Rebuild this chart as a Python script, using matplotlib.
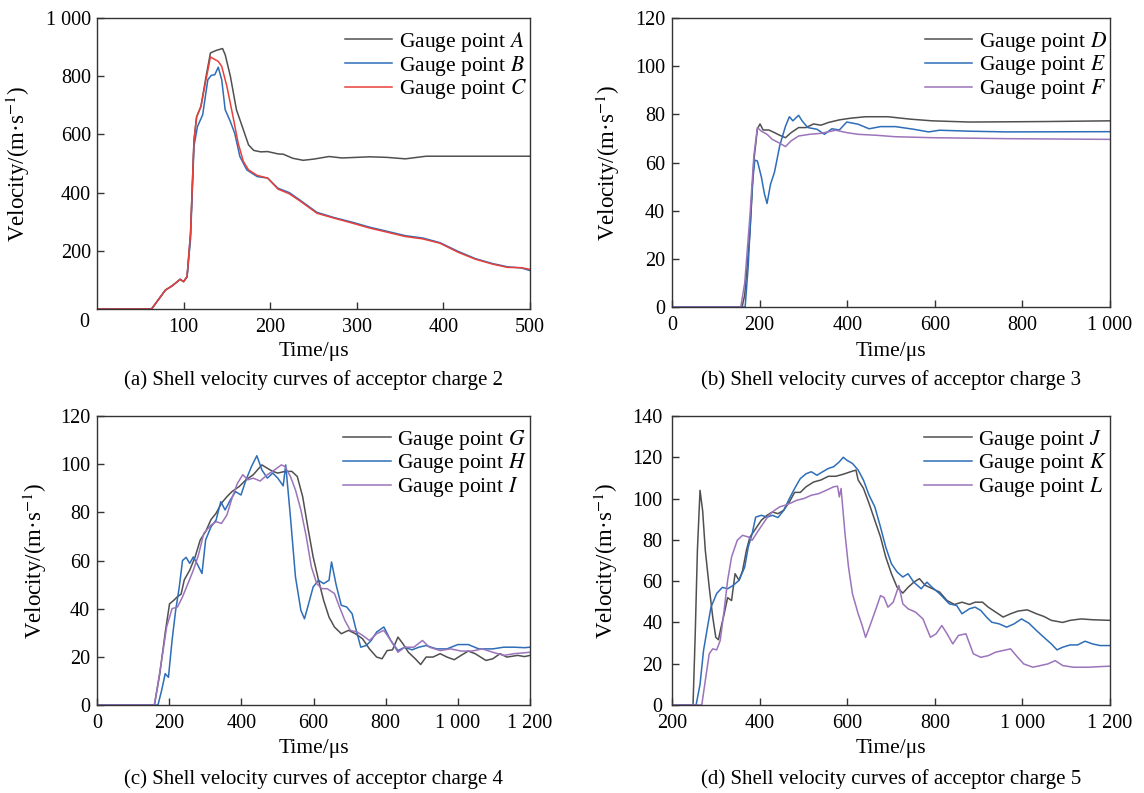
import matplotlib
matplotlib.use("Agg")
import matplotlib.pyplot as plt
from matplotlib.ticker import FixedLocator, FuncFormatter

plt.rcParams['font.family'] = ['Liberation Serif', 'DejaVu Serif']
plt.rcParams['mathtext.fontset'] = 'stix'
plt.rcParams['font.size'] = 14

# ---------------- data ----------------
# (a) acceptor charge 2
a_A_t = [0, 63, 79, 87, 96, 100, 104, 108, 112, 115, 120, 126, 131, 138, 145, 148, 154, 161, 169, 175,
         181, 189, 197, 209, 215, 226, 238, 250, 268, 283, 315, 335, 356, 380, 500]
a_A_v = [0, 0, 65, 80, 102, 94, 111, 260, 580, 660, 696, 800, 880, 889, 895, 874, 800, 685, 616, 564,
         545, 540, 541, 533, 532, 518, 511, 515, 524, 519, 523, 521, 516, 525, 525]
a_B_t = [0, 63, 79, 87, 96, 100, 104, 108, 112, 116, 122, 128, 132, 136, 140, 144, 148, 154, 159, 165,
         173, 185, 197, 209, 222, 234, 254, 274, 295, 315, 335, 356, 376, 396, 417, 437, 457, 474, 490, 500]
a_B_v = [0, 0, 65, 80, 102, 94, 111, 240, 560, 627, 667, 788, 803, 805, 831, 788, 685, 644, 604, 524,
         478, 455, 450, 415, 400, 375, 332, 314, 298, 281, 267, 252, 244, 228, 198, 173, 156, 145, 141, 132]
a_C_t = [0, 63, 79, 87, 96, 100, 104, 108, 112, 115, 120, 126, 131, 140, 144, 150, 157, 163, 169, 175,
         185, 197, 209, 222, 234, 254, 274, 295, 315, 335, 356, 376, 396, 417, 437, 457, 474, 490, 500]
a_C_v = [0, 0, 65, 80, 102, 94, 111, 260, 580, 660, 696, 790, 866, 851, 834, 765, 662, 570, 507, 478,
         459, 450, 412, 396, 372, 329, 312, 295, 278, 264, 249, 241, 226, 195, 171, 154, 143, 142, 136]

# (b) acceptor charge 3
b_D_t = [0, 160, 166, 178, 187, 195, 201, 208, 221, 234, 246, 259, 272, 289, 306, 323, 340, 357, 382,
         408, 442, 493, 544, 594, 679, 849, 1000]
b_D_v = [0, 0, 5, 31, 61, 74, 76, 73.5, 73.5, 72.4, 71.3, 70.3, 72.4, 74.5, 74.5, 76, 75.5, 76.6, 77.7,
         78.4, 79, 79, 78, 77.3, 76.8, 77, 77.3]
b_E_t = [0, 167, 174, 183, 189, 195, 204, 211, 217, 225, 234, 246, 259, 268, 276, 289, 297, 310, 331,
         348, 365, 382, 399, 425, 450, 476, 510, 552, 586, 611, 679, 764, 1000]
b_E_v = [0, 0, 17, 50, 61, 60.6, 54, 47, 43, 51, 56, 67, 75, 79, 77.3, 79.6, 77.3, 74.5, 73.8,
         71.7, 74, 73.5, 76.8, 75.9, 74, 74.9, 74.9, 73.8, 72.7, 73.4, 73, 72.7, 72.8]
b_F_t = [0, 157, 166, 178, 187, 195, 204, 217, 229, 246, 259, 272, 289, 314, 340, 374, 399, 425, 467,
         510, 594, 764, 1000]
b_F_v = [0, 0, 10, 38, 63, 74.5, 73, 71.7, 69.6, 68, 66.6, 69, 71, 71.7, 72.1, 73.4, 72.4, 71.7, 71.3,
         70.7, 70.3, 69.9, 69.6]

# (c) acceptor charge 4
c_G_t = [0, 159, 174, 189, 201, 213, 223, 233, 242, 257, 272, 286, 301, 316, 330, 345, 360, 374, 394,
         413, 433, 457, 472, 487, 501, 521, 540, 555, 570, 584, 599, 614, 628, 643, 658, 677, 697, 716,
         736, 755, 775, 790, 804, 819, 834, 848, 863, 882, 897, 912, 931, 951, 970, 990, 1009, 1029,
         1048, 1078, 1097, 1117, 1136, 1166, 1185, 1200]
c_G_v = [0, 0, 13, 30, 42, 43.5, 45, 46, 52, 56, 61.5, 68.5, 72, 77, 79.6, 83.8, 86.5, 88.6, 90.7,
         93.5, 95.6, 99.7, 98.3, 97, 96.3, 97, 97, 94.9, 86.5, 74, 61.5, 51.8, 43.5, 36.5, 32.4, 29.6,
         31, 29.6, 27.5, 23.3, 19.9, 19.2, 22.6, 22.9, 28.2, 25.4, 21.9, 19.2, 16.8, 19.9, 19.9, 21.3,
         19.9, 18.8, 20.6, 22.4, 21.3, 18.5, 19.2, 21.3, 19.9, 20.6, 20.1, 20.6]
c_H_t = [0, 169, 179, 189, 198, 208, 218, 228, 237, 247, 257, 267, 277, 291, 301, 316, 330, 343, 355,
         369, 384, 399, 413, 428, 443, 457, 472, 487, 501, 516, 523, 536, 550, 565, 575, 584, 599, 614,
         628, 643, 650, 663, 677, 692, 707, 716, 731, 746, 760, 775, 795, 814, 834, 853, 873, 892, 912,
         941, 970, 1000, 1029, 1058, 1097, 1127, 1156, 1185, 1200]
c_H_v = [0, 0, 6, 13, 11.5, 26.8, 39.3, 49, 60, 61.3, 58.8, 61.5, 58.8, 54.6, 68.5, 74, 76.8, 84.4,
         81, 85, 88.6, 87.2, 93.5, 99, 103.5, 97.6, 94.2, 96.3, 94.2, 91, 99.7, 78.2, 53.2, 39.3, 35.8,
         40.7, 49, 51.8, 50.4, 51.8, 59.4, 49.7, 41.4, 40.7, 37.9, 32.4, 24, 24.7, 26.8, 30.3, 32.4,
         26.8, 22.6, 24, 22.9, 24, 24.7, 23.3, 23.3, 25.1, 25.1, 23.3, 23.3, 24, 24, 23.8, 24]
c_I_t = [0, 159, 169, 179, 193, 208, 223, 237, 252, 267, 281, 296, 316, 330, 345, 360, 374, 389, 404,
         418, 433, 452, 472, 492, 511, 521, 536, 550, 565, 580, 594, 609, 623, 638, 658, 672, 687, 702,
         721, 736, 755, 775, 795, 814, 834, 853, 878, 902, 921, 951, 980, 1009, 1039, 1068, 1097, 1127,
         1156, 1200]
c_I_v = [0, 0, 8.8, 18.5, 32.4, 40, 40.7, 44.9, 50.4, 56, 62.2, 71.3, 74.7, 76.1, 75.4, 78.9, 85.8,
         92, 95.6, 93.5, 94.2, 93, 95.6, 97.6, 99.7, 99, 94.9, 89.3, 81, 69.9, 57.4, 50.4, 48.3, 48.3,
         46.3, 40.7, 35.1, 31, 30.3, 28.9, 26.8, 29.6, 31, 26.8, 21.9, 24, 24, 26.8, 24, 22.6, 23.3,
         22.4, 22.4, 23.3, 21.9, 20.6, 21.3, 21.9]

# (d) acceptor charge 5
d_J_t = [200, 248, 253, 258, 264, 270, 276, 285, 293, 300, 306, 312, 319, 327, 336, 344, 353, 361, 370,
         378, 391, 404, 417, 429, 442, 455, 468, 480, 493, 506, 523, 540, 557, 574, 591, 608, 620, 625,
         637, 650, 663, 676, 688, 701, 714, 727, 739, 752, 765, 778, 795, 811, 828, 845, 862, 879, 892,
         909, 922, 939, 956, 973, 990, 1011, 1032, 1049, 1066, 1092, 1109, 1134, 1160, 1200]
d_J_v = [0, 0, 34, 75, 104, 94, 75, 57, 42.6, 32.8, 31.6, 37.7, 44, 52, 50.6, 63.6, 60.4, 65, 75,
         81.4, 85.4, 89.5, 91.9, 93.5, 92.7, 94.3, 98.4, 103, 103, 105.7, 108, 109, 110.8, 110.8, 111.8,
         113, 113.8, 109, 105, 97.6, 89.5, 81.4, 71.7, 63.6, 57, 54.2, 57, 59.5, 61.2, 58, 56.3, 54.7,
         50.6, 48.7, 49.8, 48.7, 49.8, 49.8, 47.4, 45, 42.6, 44.2, 45.5, 46.1, 44.2, 42.9, 41, 40, 41,
         41.7, 41.3, 41]
d_K_t = [200, 255, 264, 272, 281, 289, 302, 315, 327, 340, 353, 366, 374, 383, 391, 404, 417, 429, 442,
         455, 468, 480, 493, 506, 518, 531, 544, 557, 569, 582, 591, 599, 612, 625, 637, 650, 663, 676,
         688, 701, 714, 727, 739, 752, 769, 782, 794, 811, 833, 850, 862, 879, 892, 905, 918, 930, 947,
         964, 981, 998, 1015, 1032, 1049, 1066, 1079, 1092, 1109, 1126, 1143, 1160, 1177, 1200]
d_K_v = [0, 0, 10, 26.4, 37.7, 47.4, 54, 57, 56.3, 58, 60.4, 66.8, 76.5, 83, 91, 91.9, 91, 91.9, 90.8,
         94.3, 100, 104.9, 109.7, 112, 113, 111.3, 113, 114.6, 115.4, 117.8, 120, 118.6, 117, 113.8,
         109, 101.6, 96, 86.2, 76.5, 68.4, 64.4, 62, 63.6, 59.5, 56.3, 59.5, 57, 53.9, 49, 48.2, 44.2,
         46.6, 47.4, 45.8, 42.6, 40.1, 39.3, 37.7, 39.3, 41.7, 39.6, 36.1, 32.8, 29.6, 26.7, 28, 29.1,
         29.1, 30.9, 29.6, 28.8, 28.8]
d_L_t = [200, 268, 276, 285, 293, 302, 310, 319, 327, 336, 349, 361, 374, 383, 395, 408, 421, 434, 446,
         459, 472, 485, 501, 518, 535, 552, 569, 578, 582, 586, 595, 603, 612, 625, 633, 642, 648, 659,
         667, 676, 684, 693, 705, 718, 727, 739, 756, 773, 790, 803, 816, 828, 841, 854, 871, 888, 905,
         922, 939, 956, 973, 986, 1003, 1024, 1041, 1058, 1075, 1092, 1117, 1151, 1177, 1200]
d_L_v = [0, 0, 11.8, 24.8, 27.2, 26.7, 31.2, 45.8, 60.4, 71.7, 79.8, 82.2, 81.4, 79.8, 83.8, 87.9,
         91.9, 94.3, 96, 96.8, 97.9, 99.2, 100, 101.6, 102.4, 104, 105.7, 106, 100.8, 104.9, 83, 66.8,
         53.9, 44.2, 39.3, 32.8, 36.1, 42.6, 47.4, 53, 52.1, 47.4, 49.8, 57.9, 49, 46.6, 45, 41.7, 32.8,
         34.5, 38.5, 34.5, 29.6, 33.7, 34.5, 24.8, 23.1, 23.9, 25.6, 26.4, 27.2, 23.9, 19.9, 18.3, 19.1,
         19.9, 21.5, 19.1, 18.3, 18.3, 18.6, 18.8]

# ---------------- style ----------------
BLACK = '#505050'
BLUE = '#2e6db8'
RED = '#e8403a'
PURPLE = '#9b74bb'
LW = 1.1

W, H = 1144, 793
fig = plt.figure(figsize=(W / 100, H / 100), dpi=100)


def rect(l, r, t, b):
    return [l / W, 1 - b / H, (r - l) / W, (b - t) / H]


def fmt(v, pos=None):
    v = int(round(v))
    if v >= 1000:
        return f"{v // 1000} {v % 1000:03d}"
    return str(v)


panels = [
    dict(r=(97, 530, 18, 309), xlim=(0, 500), ylim=(0, 1000), xt=[100, 200, 300, 400, 500],
         yt=[200, 400, 600, 800, 1000], ypad=4.5,
         series=[(a_A_t, a_A_v, BLACK, 'A'), (a_B_t, a_B_v, BLUE, 'B'), (a_C_t, a_C_v, RED, 'C')],
         cap='(a) Shell velocity curves of acceptor charge 2', ylx=18, xly=351, capy=380),
    dict(r=(672, 1110, 18, 307), xlim=(0, 1000), ylim=(0, 120), xt=[0, 200, 400, 600, 800, 1000],
         yt=[0, 20, 40, 60, 80, 100, 120], ypad=5,
         series=[(b_D_t, b_D_v, BLACK, 'D'), (b_E_t, b_E_v, BLUE, 'E'), (b_F_t, b_F_v, PURPLE, 'F')],
         cap='(b) Shell velocity curves of acceptor charge 3', ylx=608, xly=351, capy=380),
    dict(r=(97, 530, 416, 705), xlim=(0, 1200), ylim=(0, 120), xt=[0, 200, 400, 600, 800, 1000, 1200],
         yt=[0, 20, 40, 60, 80, 100, 120], ypad=5,
         series=[(c_G_t, c_G_v, BLACK, 'G'), (c_H_t, c_H_v, BLUE, 'H'), (c_I_t, c_I_v, PURPLE, 'I')],
         cap='(c) Shell velocity curves of acceptor charge 4', ylx=35, xly=748, capy=779),
    dict(r=(672, 1110, 416, 705), xlim=(200, 1200), ylim=(0, 140), xt=[200, 400, 600, 800, 1000, 1200],
         yt=[0, 20, 40, 60, 80, 100, 120, 140], ypad=7,
         series=[(d_J_t, d_J_v, BLACK, 'J'), (d_K_t, d_K_v, BLUE, 'K'), (d_L_t, d_L_v, PURPLE, 'L')],
         cap='(d) Shell velocity curves of acceptor charge 5', ylx=606, xly=748, capy=779),
]

for i, p in enumerate(panels):
    l, r, t, b = p['r']
    ax = fig.add_axes(rect(l, r, t, b))
    for xs, ys, col, lab in p['series']:
        ax.plot(xs, ys, color=col, lw=LW, label=f'Gauge point ${lab}$')
    ax.set_xlim(*p['xlim'])
    ax.set_ylim(*p['ylim'])
    ax.xaxis.set_major_locator(FixedLocator(p['xt']))
    ax.yaxis.set_major_locator(FixedLocator(p['yt']))
    ax.xaxis.set_major_formatter(FuncFormatter(fmt))
    ax.yaxis.set_major_formatter(FuncFormatter(fmt))
    ax.tick_params(direction='in', length=5, width=1, color='#333333', labelsize=14.5,
                   top=False, right=False)
    ax.tick_params(axis='x', pad=6.5)
    ax.tick_params(axis='y', pad=p['ypad'])
    for s in ax.spines.values():
        s.set_color('#333333')
        s.set_linewidth(1.0)
    ax.legend(loc='upper right', bbox_to_anchor=(1.0, 0.97), frameon=False, fontsize=15.5,
              handlelength=2.2, handletextpad=0.3, labelspacing=-0.02, borderaxespad=0.0,
              borderpad=0.15)
    cx = (l + r) / 2
    fig.text(cx / W, 1 - p['xly'] / H, 'Time/μs', ha='center', va='center', fontsize=15.5)
    fig.text(cx / W, 1 - p['capy'] / H, p['cap'], ha='center', va='center', fontsize=15)
    fig.text(p['ylx'] / W, 1 - (t + b) / 2 / H, 'Velocity/(m·s$^{-1}$)', rotation=90,
             ha='center', va='center', fontsize=16.5)
    if i == 0:
        fig.text(84 / W, 1 - 323 / H, '0', ha='center', va='center', fontsize=14.5)

fig.savefig('out.png', dpi=100)
